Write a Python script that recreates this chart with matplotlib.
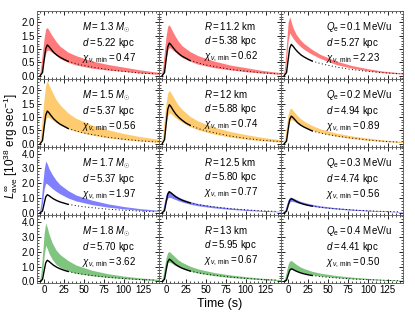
import numpy as np
import matplotlib
matplotlib.use("Agg")
import matplotlib.pyplot as plt
from matplotlib.ticker import MultipleLocator, AutoMinorLocator, FormatStrFormatter

# ---------------- dados ----------------
# grade de tempo das bandas (modelo) e dos pontos observados
t_band = [-6, -4, -2, 0, 2, 4, 6, 10, 15, 20, 30, 40, 60, 80, 100, 120, 145]
t_obs = [-5, -2, 0, 2, 4, 6, 9, 12, 16, 20, 25, 30, 40, 50, 65, 80, 100, 120, 140]

# linha 1 (M, R, Qe) - vermelho
hi_M13 = [0, 0.35, 0.9, 1.4, 1.75, 1.8, 1.7, 1.5, 1.28, 1.1, 0.88, 0.75, 0.55, 0.42, 0.32, 0.22, 0.12]
lo_M13 = [0, 0.05, 0.3, 0.6, 0.85, 0.95, 0.95, 0.88, 0.76, 0.64, 0.5, 0.4, 0.28, 0.21, 0.16, 0.1, 0.05]
hi_R112 = [0, 0.35, 0.95, 1.5, 1.85, 1.9, 1.78, 1.55, 1.3, 1.12, 0.9, 0.75, 0.55, 0.4, 0.3, 0.2, 0.11]
lo_R112 = [0, 0.05, 0.3, 0.65, 0.95, 1.05, 1.02, 0.92, 0.8, 0.68, 0.54, 0.43, 0.3, 0.22, 0.15, 0.1, 0.05]
hi_Q01 = [0, 0.4, 1.2, 2.0, 2.2, 2.0, 1.8, 1.55, 1.35, 1.2, 0.98, 0.8, 0.55, 0.38, 0.26, 0.17, 0.1]
lo_Q01 = [0, 0.1, 0.6, 1.3, 1.6, 1.5, 1.4, 1.25, 1.1, 0.98, 0.8, 0.65, 0.42, 0.28, 0.18, 0.11, 0.06]

# linha 2 - laranja
hi_M15 = [0, 0.4, 1.1, 1.7, 2.2, 2.35, 2.2, 1.95, 1.65, 1.45, 1.15, 0.95, 0.7, 0.52, 0.38, 0.27, 0.16]
lo_M15 = [0, 0.05, 0.3, 0.65, 0.9, 1.0, 0.98, 0.9, 0.8, 0.7, 0.56, 0.46, 0.32, 0.22, 0.15, 0.1, 0.05]
hi_R12 = [0, 0.35, 1.0, 1.55, 1.9, 2.0, 1.9, 1.7, 1.45, 1.28, 1.02, 0.85, 0.62, 0.46, 0.34, 0.24, 0.14]
lo_R12 = [0, 0.05, 0.35, 0.75, 1.05, 1.15, 1.12, 1.02, 0.9, 0.8, 0.64, 0.52, 0.36, 0.25, 0.17, 0.11, 0.06]
hi_Q02 = [0, 0.25, 0.7, 1.1, 1.3, 1.32, 1.25, 1.1, 0.95, 0.84, 0.68, 0.56, 0.4, 0.29, 0.21, 0.14, 0.08]
lo_Q02 = [0, 0.05, 0.3, 0.65, 0.85, 0.9, 0.88, 0.8, 0.7, 0.62, 0.5, 0.41, 0.28, 0.19, 0.13, 0.08, 0.04]

# linha 3 - azul
hi_M17 = [0, 0.6, 1.8, 2.9, 3.5, 3.3, 3.0, 2.6, 2.2, 1.9, 1.5, 1.2, 0.85, 0.6, 0.42, 0.28, 0.16]
lo_M17 = [0, 0.1, 0.7, 1.6, 2.0, 1.95, 1.85, 1.65, 1.45, 1.28, 1.0, 0.8, 0.55, 0.38, 0.26, 0.17, 0.09]
hi_R125 = [0, 0.25, 0.8, 1.25, 1.5, 1.48, 1.4, 1.25, 1.08, 0.95, 0.76, 0.62, 0.45, 0.33, 0.24, 0.16, 0.09]
lo_R125 = [0, 0.05, 0.35, 0.75, 1.0, 1.05, 1.02, 0.93, 0.82, 0.73, 0.58, 0.47, 0.33, 0.23, 0.16, 0.1, 0.05]
hi_Q03 = [0, 0.2, 0.55, 0.88, 1.05, 1.05, 1.0, 0.9, 0.78, 0.7, 0.57, 0.47, 0.34, 0.25, 0.18, 0.12, 0.07]
lo_Q03 = [0, 0.03, 0.25, 0.55, 0.72, 0.78, 0.76, 0.7, 0.62, 0.55, 0.44, 0.36, 0.25, 0.17, 0.12, 0.08, 0.04]

# linha 4 - verde
hi_M18 = [0, 0.5, 1.8, 3.2, 3.9, 3.6, 3.2, 2.6, 2.1, 1.8, 1.4, 1.1, 0.75, 0.52, 0.36, 0.24, 0.14]
lo_M18 = [0, 0.1, 0.6, 1.7, 2.4, 2.2, 1.9, 1.5, 1.15, 0.95, 0.7, 0.55, 0.38, 0.27, 0.19, 0.12, 0.06]
hi_R13 = [0, 0.35, 1.0, 1.6, 1.95, 2.0, 1.9, 1.7, 1.45, 1.28, 1.02, 0.84, 0.6, 0.44, 0.32, 0.22, 0.12]
lo_R13 = [0, 0.05, 0.4, 0.9, 1.25, 1.3, 1.25, 1.12, 0.98, 0.87, 0.69, 0.56, 0.39, 0.27, 0.19, 0.12, 0.06]
hi_Q04 = [0, 0.25, 0.7, 1.15, 1.38, 1.4, 1.32, 1.15, 0.98, 0.86, 0.68, 0.56, 0.4, 0.29, 0.21, 0.14, 0.08]
lo_Q04 = [0, 0.04, 0.28, 0.6, 0.78, 0.82, 0.8, 0.72, 0.63, 0.56, 0.45, 0.37, 0.26, 0.18, 0.13, 0.08, 0.04]

# curvas observadas (preto)
obs_M13 = [0.0, 0.12, 0.58, 1.01, 1.15, 1.09, 0.98, 0.87, 0.77, 0.69, 0.61, 0.54, 0.45, 0.38, 0.30, 0.23, 0.16, 0.10, 0.07]
obs_R112 = [0.0, 0.12, 0.61, 1.07, 1.22, 1.16, 1.04, 0.93, 0.82, 0.73, 0.65, 0.57, 0.48, 0.40, 0.32, 0.24, 0.17, 0.11, 0.07]
obs_Q01 = [0.0, 0.12, 0.59, 1.03, 1.17, 1.11, 0.99, 0.89, 0.78, 0.70, 0.62, 0.55, 0.46, 0.39, 0.30, 0.23, 0.16, 0.11, 0.07]
obs_M15 = [0.0, 0.12, 0.61, 1.07, 1.22, 1.16, 1.04, 0.93, 0.82, 0.73, 0.65, 0.57, 0.48, 0.40, 0.32, 0.24, 0.17, 0.11, 0.07]
obs_R12 = [0.0, 0.15, 0.73, 1.28, 1.46, 1.39, 1.24, 1.11, 0.98, 0.88, 0.77, 0.69, 0.57, 0.48, 0.38, 0.29, 0.20, 0.13, 0.09]
obs_Q02 = [0.0, 0.10, 0.52, 0.91, 1.03, 0.98, 0.88, 0.78, 0.69, 0.62, 0.55, 0.48, 0.40, 0.34, 0.27, 0.21, 0.14, 0.09, 0.06]
obs_M17 = [0.0, 0.12, 0.61, 1.07, 1.22, 1.16, 1.04, 0.93, 0.82, 0.73, 0.65, 0.57, 0.48, 0.40, 0.32, 0.24, 0.17, 0.11, 0.07]
obs_R125 = [0.0, 0.14, 0.71, 1.25, 1.42, 1.35, 1.21, 1.08, 0.95, 0.85, 0.75, 0.67, 0.55, 0.47, 0.37, 0.28, 0.20, 0.13, 0.09]
obs_Q03 = [0.0, 0.10, 0.48, 0.84, 0.95, 0.90, 0.81, 0.72, 0.64, 0.57, 0.50, 0.45, 0.37, 0.31, 0.25, 0.19, 0.13, 0.09, 0.06]
obs_M18 = [0.0, 0.14, 0.71, 1.25, 1.42, 1.35, 1.21, 1.08, 0.95, 0.85, 0.75, 0.67, 0.55, 0.47, 0.37, 0.28, 0.20, 0.13, 0.09]
obs_R13 = [0.0, 0.15, 0.75, 1.31, 1.49, 1.42, 1.27, 1.13, 1.00, 0.89, 0.79, 0.70, 0.58, 0.49, 0.39, 0.30, 0.21, 0.13, 0.09]
obs_Q04 = [0.0, 0.09, 0.43, 0.75, 0.85, 0.81, 0.72, 0.65, 0.57, 0.51, 0.45, 0.40, 0.33, 0.28, 0.22, 0.17, 0.12, 0.08, 0.05]

# rótulos de cada painel
param_labels = [
    [r"$M = 1.3\ M_{\odot}$", r"$R = 11.2$ km", r"$Q_{\rm e} = 0.1$ MeV/u"],
    [r"$M = 1.5\ M_{\odot}$", r"$R = 12$ km", r"$Q_{\rm e} = 0.2$ MeV/u"],
    [r"$M = 1.7\ M_{\odot}$", r"$R = 12.5$ km", r"$Q_{\rm e} = 0.3$ MeV/u"],
    [r"$M = 1.8\ M_{\odot}$", r"$R = 13$ km", r"$Q_{\rm e} = 0.4$ MeV/u"],
]
dist_labels = [["5.22", "5.38", "5.27"], ["5.37", "5.88", "4.94"],
               ["5.37", "5.80", "4.74"], ["5.70", "5.95", "4.41"]]
chi_labels = [["0.47", "0.62", "2.23"], ["0.56", "0.74", "0.89"],
              ["1.97", "0.77", "0.56"], ["3.62", "0.67", "0.50"]]
# -------------------------------------------------------

bands_hi = [[hi_M13, hi_R112, hi_Q01], [hi_M15, hi_R12, hi_Q02],
            [hi_M17, hi_R125, hi_Q03], [hi_M18, hi_R13, hi_Q04]]
bands_lo = [[lo_M13, lo_R112, lo_Q01], [lo_M15, lo_R12, lo_Q02],
            [lo_M17, lo_R125, lo_Q03], [lo_M18, lo_R13, lo_Q04]]
obs = [[obs_M13, obs_R112, obs_Q01], [obs_M15, obs_R12, obs_Q02],
       [obs_M17, obs_R125, obs_Q03], [obs_M18, obs_R13, obs_Q04]]

row_colors = ["#ff7b7b", "#ffcb70", "#8080ff", "#7fc47f"]
row_ylim = [(-0.12, 2.42), (-0.12, 2.42), (-0.15, 4.45), (-0.1, 4.45)]
row_ymajor = [0.5, 0.5, 1.0, 1.0]

plt.rcParams["font.family"] = "Liberation Sans"
plt.rcParams["mathtext.fontset"] = "custom"
plt.rcParams["mathtext.rm"] = "Liberation Sans"
plt.rcParams["mathtext.it"] = "Liberation Sans:italic"
plt.rcParams["mathtext.bf"] = "Liberation Sans:bold"
plt.rcParams["font.size"] = 7

fig, axes = plt.subplots(4, 3, figsize=(4.15, 3.12), dpi=100, sharex=True, sharey="row")
fig.subplots_adjust(left=0.089, right=0.971, top=0.965, bottom=0.093, hspace=0, wspace=0)

n_solid = 12  # pontos ligados por linha cheia (t <= 30)
for r in range(4):
    for c in range(3):
        ax = axes[r, c]
        ax.fill_between(t_band, bands_lo[r][c], bands_hi[r][c], color=row_colors[r], lw=0)
        ax.plot(t_obs[:n_solid], obs[r][c][:n_solid], "k-", lw=1.0)
        ax.plot(t_obs[n_solid - 1:], obs[r][c][n_solid - 1:], color="k", lw=0.7, ls=(0, (1, 2.5)))
        ax.set_xlim(-9, 144)
        ax.set_ylim(*row_ylim[r])
        ax.xaxis.set_major_locator(MultipleLocator(25))
        ax.xaxis.set_minor_locator(MultipleLocator(5))
        ax.yaxis.set_major_locator(MultipleLocator(row_ymajor[r]))
        ax.yaxis.set_minor_locator(AutoMinorLocator(5))
        ax.yaxis.set_major_formatter(FormatStrFormatter("%.1f"))
        ax.tick_params(which="both", direction="in", top=True, right=True, labelsize=7, pad=1.5)
        ax.tick_params(which="major", length=3, width=0.6)
        ax.tick_params(which="minor", length=1.5, width=0.5)
        for s in ax.spines.values():
            s.set_linewidth(0.6)
            s.set_color("#555555")
        txt = (param_labels[r][c] + "\n" + r"$d = $" + dist_labels[r][c] + " kpc\n"
               + r"$\chi_{\nu,\,\mathrm{min}} = $" + chi_labels[r][c])
        ax.text(0.37, 0.86, txt, transform=ax.transAxes, ha="left", va="top",
                fontsize=7, linespacing=1.15)

fig.text(0.53, 0.027, "Time (s)", ha="center", va="center", fontsize=9)
fig.text(0.025, 0.53, r"$L^{\infty}_{\rm ave}$ [10$^{38}$ erg sec$^{-1}$]",
         rotation=90, ha="center", va="center", fontsize=8.5)

fig.savefig("out.png", dpi=100)
